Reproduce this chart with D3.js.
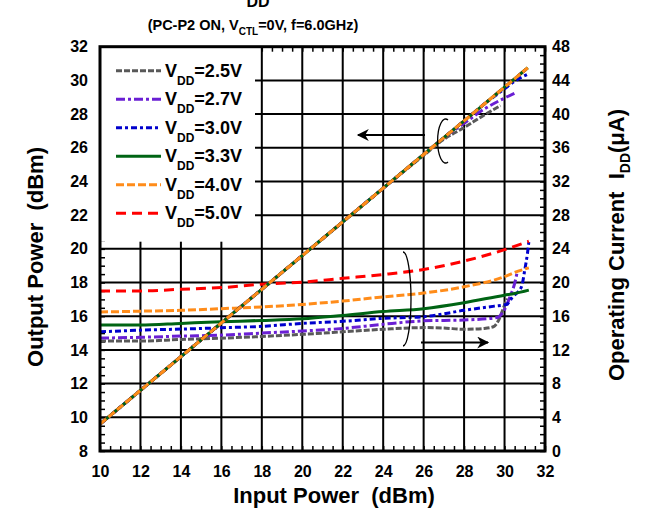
<!DOCTYPE html>
<html>
<head>
<meta charset="utf-8">
<script src="https://cdn.jsdelivr.net/npm/d3@7"></script>
<style>
  body { margin: 0; background: #fff; }
  svg text { font-family: Arial, "Liberation Sans", sans-serif; font-weight: bold; fill: #000; white-space: pre; }
</style>
</head>
<body>
<div id="chart"></div>
<script>
// series names
var voltages = ["2.5V", "2.7V", "3.0V", "3.3V", "4.0V", "5.0V"];

// output power (dBm) vs input power (dBm)
var pinOut25 = [10, 12, 14, 16, 18, 20, 22, 24, 26, 27, 28, 29, 29.8];
var pout25   = [9.6, 11.6, 13.6, 15.6, 17.6, 19.6, 21.6, 23.6, 25.55, 26.5, 27.2, 27.95, 28.5];
var pinOut27 = [10, 12, 14, 16, 18, 20, 22, 24, 26, 27, 28, 29, 30, 30.6];
var pout27   = [9.6, 11.6, 13.6, 15.6, 17.6, 19.6, 21.6, 23.6, 25.6, 26.6, 27.45, 28.3, 28.95, 29.3];
var pinOut30 = [10, 12, 14, 16, 18, 20, 22, 24, 26, 28, 29, 29.5, 30, 30.5, 31.2];
var pout30   = [9.6, 11.6, 13.6, 15.6, 17.6, 19.6, 21.6, 23.6, 25.6, 27.6, 28.6, 29.05, 29.5, 29.95, 30.4];
var pinOutHi = [10, 12, 14, 16, 18, 20, 22, 24, 26, 28, 30, 31.15];
var poutHi   = [9.6, 11.6, 13.6, 15.6, 17.6, 19.6, 21.6, 23.6, 25.6, 27.6, 29.6, 30.75];

// operating current (uA) vs input power (dBm)
var pinI25 = [10, 12, 14, 16, 18, 20, 22, 24, 26, 27, 28, 29, 29.45, 29.7, 29.93, 30.13];
var iDD25  = [13.05, 13.05, 13.25, 13.4, 13.6, 13.85, 14.15, 14.45, 14.65, 14.6, 14.45, 14.55, 14.75, 15.5, 16.9, 18.1];
var pinI27 = [10, 12, 14, 16, 18, 20, 22, 24, 26, 28, 29.5, 29.7, 29.9, 30.27, 30.5, 30.63];
var iDD27  = [13.4, 13.5, 13.64, 13.76, 14.0, 14.25, 14.55, 15.05, 15.45, 15.55, 15.8, 15.9, 16.4, 18.3, 19.9, 21.3];
var pinI30 = [10, 12, 14, 16, 18, 20, 22, 24, 26, 28, 29.5, 30.1, 30.4, 30.84, 31.0, 31.14, 31.2];
var iDD30  = [14.15, 14.35, 14.47, 14.63, 14.8, 15.15, 15.4, 15.75, 15.95, 16.7, 17.2, 17.4, 18.3, 19.5, 21.5, 23.6, 24.8];
var pinI33 = [10, 12, 14, 16, 18, 20, 22, 24, 26, 28, 30, 30.5, 31.2];
var iDD33  = [14.95, 14.95, 15.15, 15.35, 15.5, 15.7, 16.1, 16.55, 16.9, 17.6, 18.5, 18.7, 19.1];
var pinI40 = [10, 12, 14, 16, 18, 20, 22, 24, 26, 28, 30, 30.5, 31.2];
var iDD40  = [16.5, 16.6, 16.7, 16.9, 17.1, 17.4, 17.8, 18.3, 18.75, 19.5, 20.7, 21.2, 21.75];
var pinI50 = [10, 12, 14, 16, 18, 20, 22, 24, 26, 28, 30, 31.2];
var iDD50  = [19.0, 19.0, 19.2, 19.4, 19.8, 20.05, 20.5, 20.95, 21.55, 22.55, 23.9, 24.9];

// axis ticks
var xTicks = d3.range(10, 33, 2);
var yLeftTicks = d3.range(8, 33, 2);
var yRightTicks = d3.range(0, 49, 4);

var svgWidth = 646;
var svgHeight = 509;

var plot = { left: 100, right: 545, top: 46.7, bottom: 451 };

var svg = d3.select("#chart").append("svg")
  .attr("width", svgWidth)
  .attr("height", svgHeight);

var x = d3.scaleLinear().domain([10, 32]).range([plot.left, plot.right]);
var yL = d3.scaleLinear().domain([8, 32]).range([plot.bottom, plot.top]);
var yR = d3.scaleLinear().domain([0, 48]).range([plot.bottom, plot.top]);

// styles per voltage
var colors = ["#595959", "#6a1fd4", "#0000cc", "#006414", "#ff8c1a", "#ff0000"];
var dashes = ["6,2", "9,3,3,3", "6,3,3,3", null, "8,3", "10,6"];

// grid lines
svg.append("g").selectAll("line")
  .data(xTicks.slice(1, -1))
  .enter().append("line")
  .attr("x1", (d) => x(d)).attr("x2", (d) => x(d))
  .attr("y1", plot.top).attr("y2", plot.bottom)
  .attr("stroke", "#000").attr("stroke-width", 2);

svg.append("g").selectAll("line")
  .data(yLeftTicks.slice(1, -1))
  .enter().append("line")
  .attr("y1", (d) => yL(d)).attr("y2", (d) => yL(d))
  .attr("x1", plot.left).attr("x2", plot.right)
  .attr("stroke", "#000").attr("stroke-width", 2);

// minor ticks (inward)
svg.append("g")
  .attr("transform", `translate(0, ${plot.bottom})`)
  .call(d3.axisBottom(x).tickValues(d3.range(10, 32.01, 0.5)).tickSize(-5).tickFormat(""))
  .call((g) => g.select(".domain").remove())
  .selectAll("line").attr("stroke-width", 1.5);
svg.append("g")
  .attr("transform", `translate(0, ${plot.top})`)
  .call(d3.axisTop(x).tickValues(d3.range(10, 32.01, 0.5)).tickSize(-5).tickFormat(""))
  .call((g) => g.select(".domain").remove())
  .selectAll("line").attr("stroke-width", 1.5);
svg.append("g")
  .attr("transform", `translate(${plot.left}, 0)`)
  .call(d3.axisLeft(yL).tickValues(d3.range(8, 32.01, 0.5)).tickSize(-5).tickFormat(""))
  .call((g) => g.select(".domain").remove())
  .selectAll("line").attr("stroke-width", 1.5);
svg.append("g")
  .attr("transform", `translate(${plot.right}, 0)`)
  .call(d3.axisRight(yR).tickValues(d3.range(0, 48.01, 1)).tickSize(-5).tickFormat(""))
  .call((g) => g.select(".domain").remove())
  .selectAll("line").attr("stroke-width", 1.5);

// legend background hides the grid
svg.append("rect")
  .attr("x", plot.left + 1).attr("y", plot.top + 1)
  .attr("width", 154).attr("height", 194)
  .attr("fill", "#fff");

// tick labels
var xAxis = svg.append("g")
  .attr("transform", `translate(0, ${plot.bottom})`)
  .call(d3.axisBottom(x).tickValues(xTicks).tickSize(0).tickPadding(14.5));
var yAxisL = svg.append("g")
  .attr("transform", `translate(${plot.left}, 0)`)
  .call(d3.axisLeft(yL).tickValues(yLeftTicks).tickSize(0).tickPadding(12));
var yAxisR = svg.append("g")
  .attr("transform", `translate(${plot.right}, 0)`)
  .call(d3.axisRight(yR).tickValues(yRightTicks).tickSize(0).tickPadding(7));
[xAxis, yAxisL, yAxisR].forEach(function (g) {
  g.select(".domain").remove();
  g.selectAll("text").style("font-size", "16px").attr("font-family", null);
});

// data lines
function pairs(xs, ys) {
  return xs.map((d, i) => [d, ys[i]]);
}
var outLine = d3.line().x((d) => x(d[0])).y((d) => yL(d[1])).curve(d3.curveMonotoneX);
var curLine = d3.line().x((d) => x(d[0])).y((d) => yR(d[1])).curve(d3.curveMonotoneX);

var outSeries = [
  { k: 0, pts: pairs(pinOut25, pout25) },
  { k: 1, pts: pairs(pinOut27, pout27) },
  { k: 2, pts: pairs(pinOut30, pout30) },
  { k: 5, pts: pairs(pinOutHi, poutHi) },
  { k: 3, pts: pairs(pinOutHi, poutHi) },
  { k: 4, pts: pairs(pinOutHi, poutHi) },
];
var curSeries = [
  { k: 0, pts: pairs(pinI25, iDD25) },
  { k: 1, pts: pairs(pinI27, iDD27) },
  { k: 2, pts: pairs(pinI30, iDD30) },
  { k: 3, pts: pairs(pinI33, iDD33) },
  { k: 4, pts: pairs(pinI40, iDD40) },
  { k: 5, pts: pairs(pinI50, iDD50) },
];

svg.append("g").selectAll("path")
  .data(curSeries)
  .enter().append("path")
  .attr("d", (d) => curLine(d.pts))
  .attr("fill", "none")
  .attr("stroke", (d) => colors[d.k])
  .attr("stroke-width", 3)
  .attr("stroke-dasharray", (d) => dashes[d.k]);

svg.append("g").selectAll("path")
  .data(outSeries)
  .enter().append("path")
  .attr("d", (d) => outLine(d.pts))
  .attr("fill", "none")
  .attr("stroke", (d) => colors[d.k])
  .attr("stroke-width", 3)
  .attr("stroke-dasharray", (d) => dashes[d.k]);

// frame
svg.append("rect")
  .attr("x", plot.left).attr("y", plot.top)
  .attr("width", plot.right - plot.left).attr("height", plot.bottom - plot.top)
  .attr("fill", "none").attr("stroke", "#000").attr("stroke-width", 3);

// legend
var legend = svg.append("g");
voltages.forEach(function (v, i) {
  var ly = 70.7 + i * 28.5;
  legend.append("line")
    .attr("x1", 116).attr("x2", 161)
    .attr("y1", ly).attr("y2", ly)
    .attr("stroke", colors[i]).attr("stroke-width", 3)
    .attr("stroke-dasharray", dashes[i]);
  var t = legend.append("text")
    .attr("x", 165).attr("y", ly + 6)
    .style("font-size", "18px");
  t.append("tspan").text("V");
  t.append("tspan").attr("dy", 8).style("font-size", "12px").text("DD");
  t.append("tspan").attr("dy", -8).text("=" + v);
});

// annotations: ellipses and arrows
svg.append("defs").append("marker")
  .attr("id", "head")
  .attr("viewBox", "0 0 10 10")
  .attr("refX", 9).attr("refY", 5)
  .attr("markerWidth", 18).attr("markerHeight", 12)
  .attr("markerUnits", "userSpaceOnUse")
  .attr("orient", "auto")
  .append("path").attr("d", "M0,0 L10,5 L0,10 L3,5 Z").attr("fill", "#000");

svg.append("path")
  .attr("d", "M448,120 A8,22 0 1,0 448,162")
  .attr("fill", "none").attr("stroke", "#000").attr("stroke-width", 1.3);
svg.append("line")
  .attr("x1", 425).attr("x2", 358).attr("y1", 135).attr("y2", 135)
  .attr("stroke", "#000").attr("stroke-width", 2)
  .attr("marker-end", "url(#head)");

svg.append("path")
  .attr("d", "M403,252 A8,47 0 1,1 403,346")
  .attr("fill", "none").attr("stroke", "#000").attr("stroke-width", 1.3);
svg.append("line")
  .attr("x1", 421).attr("x2", 488).attr("y1", 342.5).attr("y2", 342.5)
  .attr("stroke", "#000").attr("stroke-width", 2)
  .attr("marker-end", "url(#head)");

// titles
svg.append("text")
  .attr("x", 258).attr("y", 7)
  .attr("text-anchor", "middle")
  .style("font-size", "16px")
  .text("DD");

var sub = svg.append("text")
  .attr("x", 253).attr("y", 30)
  .attr("text-anchor", "middle")
  .style("font-size", "14.5px");
sub.append("tspan").text("(PC-P2 ON, V");
sub.append("tspan").attr("dy", 5).style("font-size", "10px").text("CTL");
sub.append("tspan").attr("dy", -5).text("=0V, f=6.0GHz)");

svg.append("text")
  .attr("x", 334).attr("y", 503)
  .attr("text-anchor", "middle")
  .style("font-size", "22px")
  .text("Input Power  (dBm)");

svg.append("text")
  .attr("transform", "translate(43, 257) rotate(-90)")
  .attr("text-anchor", "middle")
  .style("font-size", "22px")
  .text("Output Power  (dBm)");

var rt = svg.append("text")
  .attr("transform", "translate(624, 245) rotate(-90)")
  .attr("text-anchor", "middle")
  .style("font-size", "22px");
rt.append("tspan").text("Operating Current  I");
rt.append("tspan").attr("dy", 6).style("font-size", "14px").text("DD");
rt.append("tspan").attr("dy", -6).text("(\u03bcA)");
</script>
</body>
</html>
